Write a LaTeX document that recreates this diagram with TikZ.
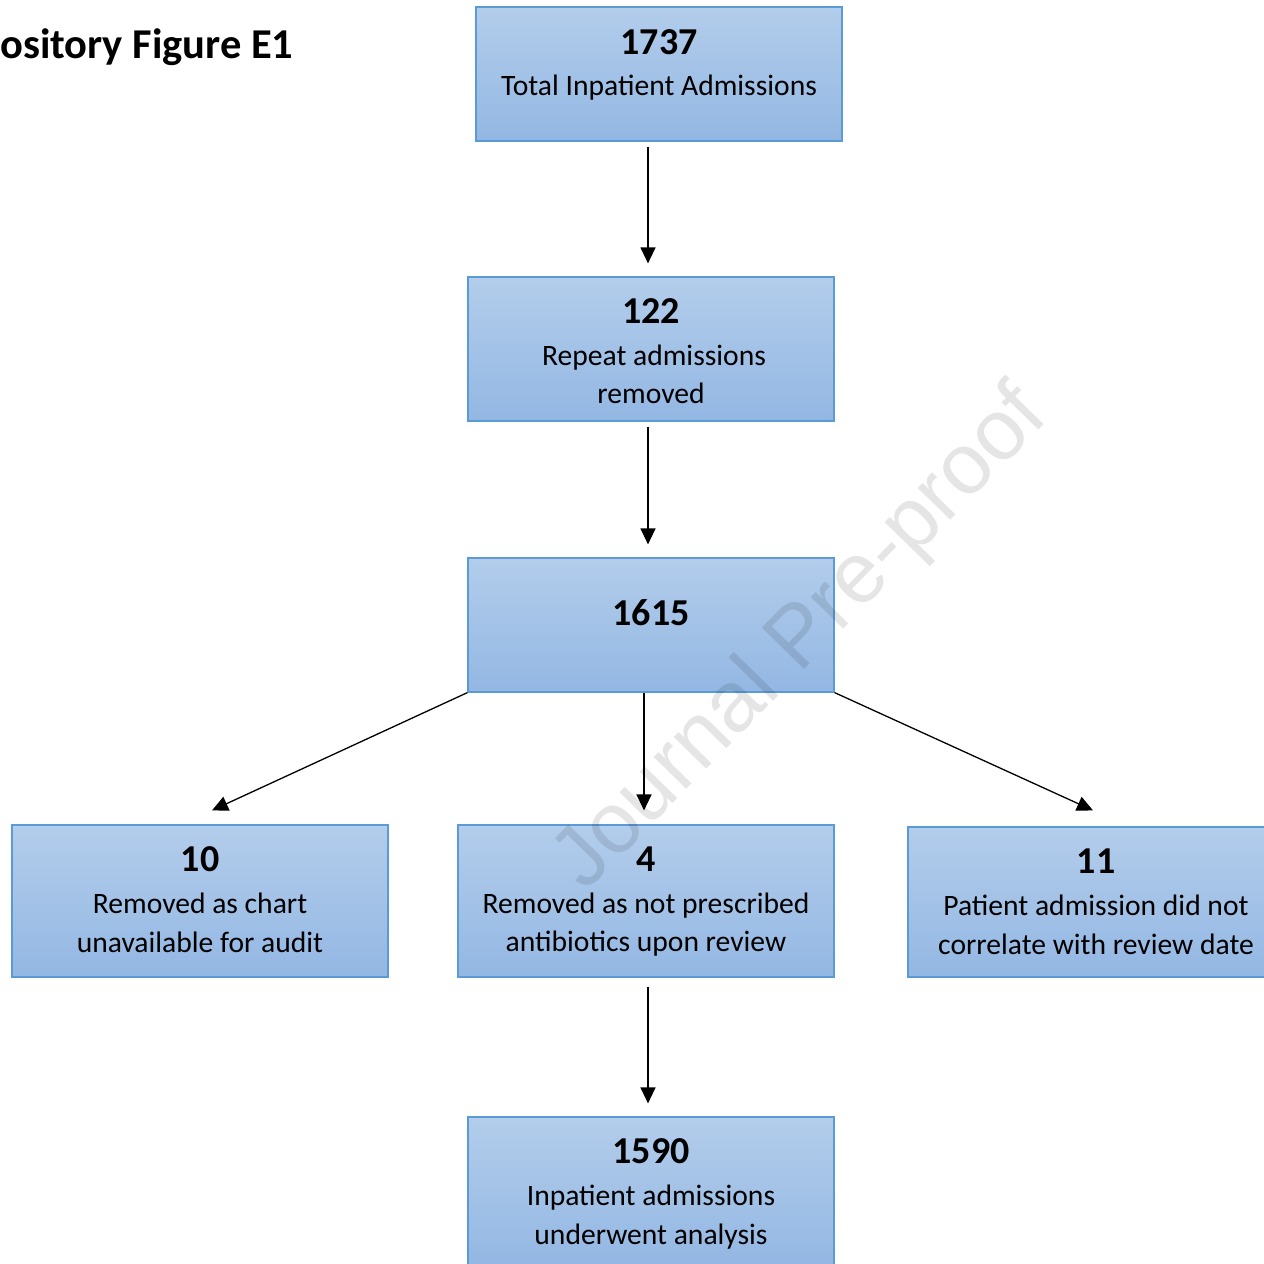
\documentclass[tikz,border=0pt]{standalone}
\usepackage{fontspec}
\setmainfont{Carlito}
\newfontfamily\wmfont{Liberation Sans}
\usetikzlibrary{arrows.meta,calc}
\definecolor{boxtop}{HTML}{B3CDEB}
\definecolor{boxbot}{HTML}{93B7E3}
\definecolor{boxline}{HTML}{5B9BD5}
\tikzset{
  flowbox/.style={rectangle, draw=boxline, line width=1.2pt, top color=boxtop, bottom color=boxbot, inner sep=0pt},
  numtxt/.style={anchor=base, inner sep=0pt, font=\fontsize{38}{44}\selectfont\bfseries},
  desctxt/.style={anchor=base, inner sep=0pt, font=\fontsize{29.6}{38}\selectfont},
  arr/.style={-{Triangle[length=16pt,width=15pt]}, line width=1.3pt, black}
}
\begin{document}
\begin{tikzpicture}[x=1pt,y=-1pt]
\useasboundingbox (0,0) rectangle (1264,1264);
\clip (0,0) rectangle (1264,1264);
\fill[white] (0,0) rectangle (1264,1264);

% title
\node[anchor=base west, inner sep=0pt, font=\fontsize{42.5}{46}\selectfont\bfseries] (title) at (0,58) {ository Figure E1};

% boxes
\node[flowbox, minimum width=366pt, minimum height=134pt] (A) at (659,74) {};
\node[flowbox, minimum width=366pt, minimum height=144pt] (B) at (651,349) {};
\node[flowbox, minimum width=366pt, minimum height=134pt] (C) at (651,625) {};
\node[flowbox, minimum width=376pt, minimum height=152pt] (D) at (200,901) {};
\node[flowbox, minimum width=376pt, minimum height=152pt] (E) at (646,901) {};
\node[flowbox, minimum width=376pt, minimum height=150pt] (F) at (1096,902) {};
\node[flowbox, minimum width=366pt, minimum height=150pt] (G) at (651,1192) {};

% texts
\node[numtxt] (a1) at (659,54) {1737};
\node[desctxt] (a2) at (659,95) {Total Inpatient Admissions};
\node[numtxt] (b1) at (651,323) {122};
\node[desctxt] (b2) at (654,365) {Repeat admissions};
\node[desctxt] (b3) at (651,403) {removed};
\node[numtxt] (c1) at (651,625) {1615};
\node[numtxt] (d1) at (200,871) {10};
\node[desctxt] (d2) at (200,913) {Removed as chart};
\node[desctxt] (d3) at (200,952) {unavailable for audit};
\node[numtxt] (e1) at (646,871) {4};
\node[desctxt] (e2) at (646,913) {Removed as not prescribed};
\node[desctxt] (e3) at (646,951) {antibiotics upon review};
\node[numtxt] (f1) at (1096,873) {11};
\node[desctxt] (f2) at (1096,915) {Patient admission did not};
\node[desctxt] (f3) at (1096,954) {correlate with review date};
\node[numtxt] (g1) at (651,1163) {1590};
\node[desctxt] (g2) at (651,1205) {Inpatient admissions};
\node[desctxt] (g3) at (651,1244) {underwent analysis};

% connectors
\draw[arr] ($(A.south)+(-11,5)$) -- ($(B.north)+(-3,-13)$);
\draw[arr] ($(B.south)+(-3,5)$) -- ($(C.north)+(-3,-13)$);
\draw[arr] ($(C.south)+(-7,0)$) -- ($(E.north)+(-2,-14)$);
\draw[arr] (C.south west) -- ($(D.north)+(12,-14)$);
\draw[arr] (C.south east) -- ($(F.north)+(-3,-16)$);
\draw[arr] ($(E.south)+(2,9)$) -- ($(G.north)+(-3,-13)$);

% watermark
\node[rotate=45.6, inner sep=0pt, text=black, text opacity=0.1, font=\fontsize{86}{96}\selectfont\wmfont] (wm) at (802,640) {Journal Pre-proof};
\end{tikzpicture}
\end{document}
